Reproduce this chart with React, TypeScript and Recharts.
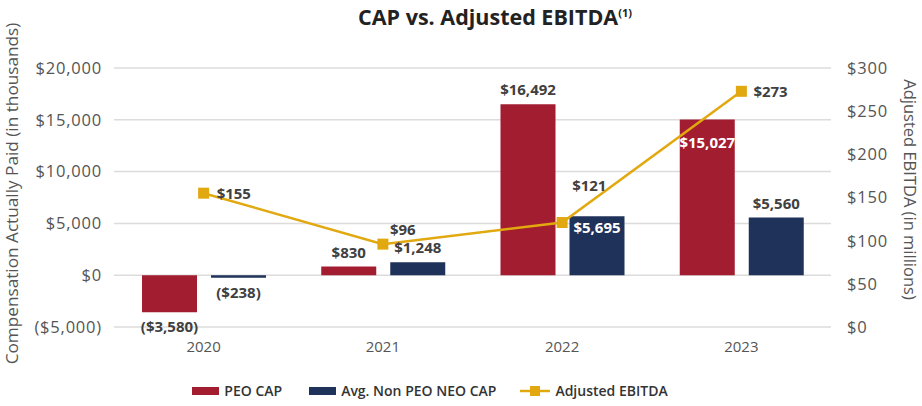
import React from 'react';
import {
  ComposedChart,
  Bar,
  Line,
  XAxis,
  YAxis,
  CartesianGrid,
  Legend,
  LabelList,
} from 'recharts';

// ---- data ----
const years = ['2020', '2021', '2022', '2023'];
const peoCap = [-3580, 830, 16492, 15027];
const neoCap = [-238, 1248, 5695, 5560];
const adjEbitda = [155, 96, 121, 273];
const leftTicks = [-5000, 0, 5000, 10000, 15000, 20000];
const rightTicks = [0, 50, 100, 150, 200, 250, 300];

const data = years.map((year, i) => ({
  year,
  peo: peoCap[i],
  neo: neoCap[i],
  ebitda: adjEbitda[i],
}));

// ---- styles ----
const RED = '#A31D30';
const NAVY = '#1F3259';
const GOLD = '#E1A80F';
const FONT = '"Open Sans", sans-serif';
const LABEL_COLOR = '#404040';
const AXIS_COLOR = '#555555';

// label layout (relative offsets, not data)
const lineLabelOffsets: [number, number][] = [
  [13, 0],
  [7, -15],
  [10, -38],
  [12, 0],
];

const fmtMoney = (v: number) =>
  v < 0 ? `($${Math.abs(v).toLocaleString('en-US')})` : `$${v.toLocaleString('en-US')}`;

const makeBarLabel = (insideIdx: number[], insideDy: number) => (props: any) => {
  const { x, y, width, height, value, index } = props;
  const top = Math.min(y, y + height);
  const bottom = Math.max(y, y + height);
  const cx = x + width / 2;
  const common = {
    x: cx,
    textAnchor: 'middle' as const,
    dominantBaseline: 'central' as const,
    fontFamily: FONT,
    fontSize: 15,
    fontWeight: 700,
  };
  if (insideIdx.includes(index)) {
    return (
      <text {...common} y={top + insideDy} fill="#ffffff">
        {fmtMoney(value)}
      </text>
    );
  }
  if (value < 0) {
    return (
      <text {...common} y={bottom + 14} fill={LABEL_COLOR}>
        {fmtMoney(value)}
      </text>
    );
  }
  return (
    <text {...common} y={top - 15} fill={LABEL_COLOR}>
      {fmtMoney(value)}
    </text>
  );
};

const lineLabel = (props: any) => {
  const { x, y, value, index } = props;
  const [dx, dy] = lineLabelOffsets[index] || [10, 0];
  return (
    <text
      x={x + dx}
      y={y + dy}
      textAnchor="start"
      dominantBaseline="central"
      fontFamily={FONT}
      fontSize={15}
      fontWeight={700}
      fill={LABEL_COLOR}
    >
      {fmtMoney(value)}
    </text>
  );
};

const SquareDot = (props: any) => {
  const { cx, cy } = props;
  if (cx == null || cy == null) return null;
  return <rect x={cx - 5.5} y={cy - 5.5} width={11} height={11} fill={GOLD} />;
};

const LegendContent = () => {
  const item = (icon: React.ReactNode, text: string, gap: number) => (
    <div style={{ display: 'flex', alignItems: 'center', marginRight: gap }}>
      {icon}
      <span
        style={{
          marginLeft: 5,
          fontFamily: FONT,
          fontSize: 14,
          fontWeight: 600,
          color: '#333333',
        }}
      >
        {text}
      </span>
    </div>
  );
  return (
    <div style={{ display: 'flex', justifyContent: 'center', alignItems: 'center' }}>
      {item(<div style={{ width: 27, height: 8, background: RED }} />, 'PEO CAP', 27)}
      {item(<div style={{ width: 27, height: 8, background: NAVY }} />, 'Avg. Non PEO NEO CAP', 24)}
      {item(
        <svg width={30} height={12}>
          <line x1={0} y1={6} x2={30} y2={6} stroke={GOLD} strokeWidth={2.5} />
          <rect x={10} y={1} width={10} height={10} fill={GOLD} />
        </svg>,
        'Adjusted EBITDA',
        0,
      )}
    </div>
  );
};

const LeftAxisLabel = (props: any) => {
  const { viewBox } = props;
  const cy = viewBox.y + viewBox.height / 2 - 4;
  const cx = 11;
  return (
    <text
      x={cx}
      y={cy}
      transform={`rotate(-90, ${cx}, ${cy})`}
      textAnchor="middle"
      dominantBaseline="central"
      fontFamily={FONT}
      fontSize={17.2}
      fill={AXIS_COLOR}
    >
      Compensation Actually Paid (in thousands)
    </text>
  );
};

const RightAxisLabel = (props: any) => {
  const { viewBox } = props;
  const cy = viewBox.y + viewBox.height / 2 - 8;
  const cx = 910;
  return (
    <text
      x={cx}
      y={cy}
      transform={`rotate(90, ${cx}, ${cy})`}
      textAnchor="middle"
      dominantBaseline="central"
      fontFamily={FONT}
      fontSize={16.5}
      fill={AXIS_COLOR}
    >
      Adjusted EBITDA (in millions)
    </text>
  );
};

const tickStyle = { fontFamily: FONT, fontSize: 16.5, fill: AXIS_COLOR, letterSpacing: 0.8 };

export default function App() {
  return (
    <div style={{ position: 'absolute', left: 0, top: 0, width: 922, height: 406, background: '#fff' }}>
      <div
        style={{
          position: 'absolute',
          left: 0,
          top: 2,
          width: 990,
          textAlign: 'center',
          fontFamily: FONT,
          fontWeight: 700,
          fontSize: 21.5,
          color: '#222222',
          zIndex: 2,
        }}
      >
        CAP vs. Adjusted EBITDA<sup style={{ fontSize: 11 }}>(1)</sup>
      </div>
      <ComposedChart
        width={922}
        height={406}
        data={data}
        margin={{ top: 68, right: 0, bottom: 25, left: 0 }}
        barGap={14}
        barCategoryGap={28}
      >
        <CartesianGrid yAxisId="left" vertical={false} stroke="#dcdcdc" strokeWidth={1.5} />
        <XAxis
          dataKey="year"
          axisLine={false}
          tickLine={false}
          tickMargin={8}
          height={30}
          tick={{ fontFamily: FONT, fontSize: 15, fill: AXIS_COLOR }}
        />
        <YAxis
          yAxisId="left"
          domain={[-5000, 20000]}
          ticks={leftTicks}
          width={114}
          axisLine={false}
          tickLine={false}
          tickMargin={6}
          tickFormatter={fmtMoney}
          tick={tickStyle}
          label={<LeftAxisLabel />}
        />
        <YAxis
          yAxisId="right"
          orientation="right"
          domain={[0, 300]}
          ticks={rightTicks}
          width={91}
          axisLine={false}
          tickLine={false}
          tickMargin={10}
          tickFormatter={fmtMoney}
          tick={tickStyle}
          label={<RightAxisLabel />}
        />
        <Legend
          verticalAlign="bottom"
          content={<LegendContent />}
          wrapperStyle={{ top: 381, left: 0, width: 860, height: 24 }}
        />
        <Bar yAxisId="left" dataKey="peo" name="PEO CAP" fill={RED} isAnimationActive={false}>
          <LabelList dataKey="peo" content={makeBarLabel([3], 22)} />
        </Bar>
        <Bar yAxisId="left" dataKey="neo" name="Avg. Non PEO NEO CAP" fill={NAVY} isAnimationActive={false}>
          <LabelList dataKey="neo" content={makeBarLabel([2], 11)} />
        </Bar>
        <Line
          yAxisId="right"
          dataKey="ebitda"
          name="Adjusted EBITDA"
          stroke={GOLD}
          strokeWidth={2.5}
          dot={<SquareDot />}
          activeDot={false}
          isAnimationActive={false}
        >
          <LabelList dataKey="ebitda" content={lineLabel} />
        </Line>
      </ComposedChart>
    </div>
  );
}
